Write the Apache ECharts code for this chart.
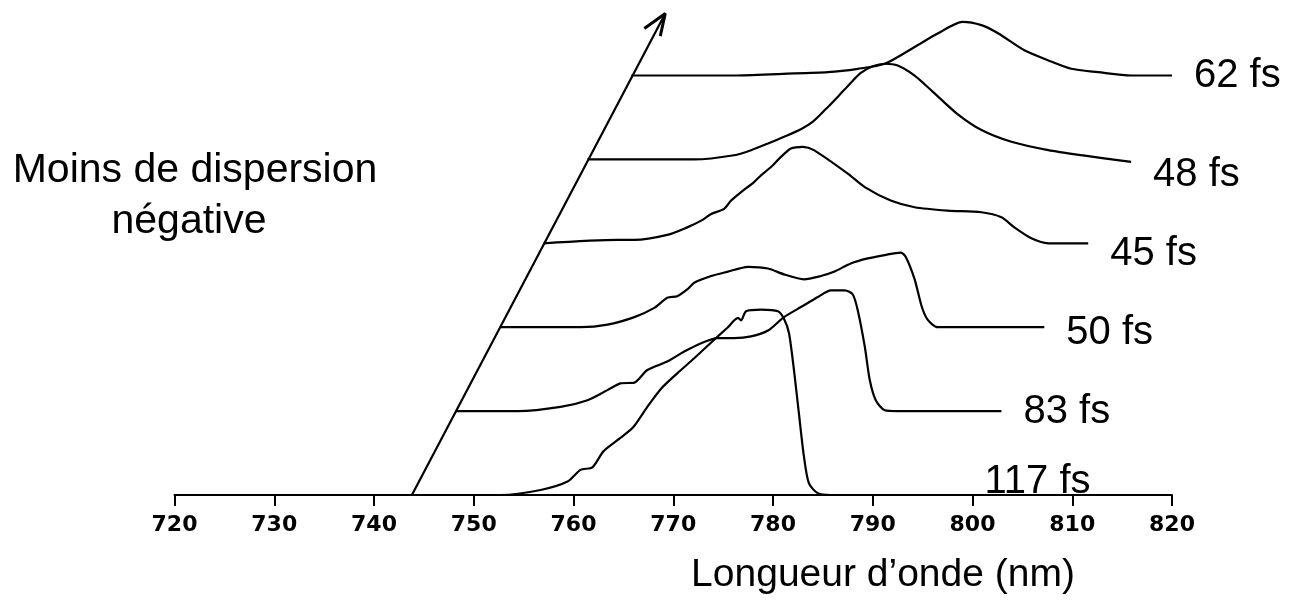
<!DOCTYPE html>
<html>
<head>
<meta charset="utf-8">
<script src="https://cdn.jsdelivr.net/npm/echarts@6/dist/echarts.min.js"></script>
<style>
html,body{margin:0;padding:0;background:#fff;}
#chart{width:1291px;height:605px;}
</style>
</head>
<body>
<div id="chart"></div>
<script>
// ---- data ----
const xTicks = [720, 730, 740, 750, 760, 770, 780, 790, 800, 810, 820];
const seriesNames = ['117 fs', '83 fs', '50 fs', '45 fs', '48 fs', '62 fs'];
const offsets = [0, 1, 2, 3, 4, 5]; // waterfall baseline of each spectrum

const w117 = [743.8, 752.7, 756.7, 759.4, 760.7, 761.9, 763.0, 764.7, 766.0, 767.4, 768.8, 770.4, 772.1, 774.1, 775.4, 776.5, 776.8, 777.3, 778.8, 780.5, 781.1, 781.6, 782.1, 782.6, 783.1, 783.6, 784.5, 785.8, 799.0];
const i117 = [0, 0, 0.06, 0.16, 0.30, 0.33, 0.52, 0.68, 0.81, 1.05, 1.27, 1.45, 1.63, 1.85, 1.99, 2.11, 2.08, 2.19, 2.21, 2.19, 2.10, 1.93, 1.49, 0.97, 0.46, 0.14, 0.02, 0, 0];

const w83 = [748.2, 754.4, 758.7, 761.4, 763.4, 764.7, 766.1, 767.4, 769.4, 771.1, 772.8, 774.4, 776.1, 777.8, 779.5, 781.1, 782.8, 784.5, 785.8, 787.2, 788.0, 788.5, 789.2, 789.7, 790.3, 791.2, 792.5, 802.9];
const i83 = [0, 0, 0.05, 0.13, 0.25, 0.33, 0.34, 0.49, 0.59, 0.71, 0.81, 0.87, 0.87, 0.89, 0.96, 1.12, 1.24, 1.36, 1.44, 1.44, 1.39, 1.20, 0.77, 0.37, 0.13, 0.01, 0, 0];

const w50 = [752.7, 760.7, 763.4, 766.1, 768.1, 769.4, 770.4, 771.4, 772.1, 773.8, 775.4, 777.5, 779.5, 781.1, 783.1, 784.8, 786.1, 787.8, 789.5, 791.2, 792.8, 793.3, 794.2, 794.9, 795.5, 796.5, 807.2];
const i50 = [0, 0, 0.03, 0.12, 0.23, 0.35, 0.37, 0.45, 0.53, 0.61, 0.66, 0.72, 0.70, 0.63, 0.57, 0.61, 0.66, 0.76, 0.82, 0.86, 0.89, 0.84, 0.57, 0.25, 0.09, 0, 0];

const w45 = [757.0, 764.4, 766.1, 769.4, 771.4, 772.8, 773.8, 775.1, 775.8, 776.8, 778.1, 778.8, 779.8, 780.8, 781.8, 783.0, 784.1, 787.5, 789.2, 791.8, 794.2, 797.5, 800.9, 802.9, 804.2, 805.9, 807.6, 811.6];
const i45 = [0, 0.04, 0.04, 0.10, 0.19, 0.27, 0.35, 0.41, 0.51, 0.61, 0.73, 0.81, 0.91, 1.03, 1.13, 1.15, 1.11, 0.83, 0.67, 0.51, 0.43, 0.39, 0.37, 0.31, 0.19, 0.06, 0, 0];

const w48 = [761.4, 772.1, 776.1, 777.8, 779.5, 781.1, 782.8, 784.0, 785.3, 786.6, 787.7, 788.8, 790.0, 791.2, 792.5, 794.2, 795.9, 798.5, 800.9, 803.9, 807.6, 810.9, 815.9];
const i48 = [0, 0, 0.05, 0.11, 0.19, 0.27, 0.36, 0.45, 0.60, 0.76, 0.90, 1.03, 1.11, 1.14, 1.12, 1.00, 0.82, 0.54, 0.35, 0.21, 0.11, 0.05, -0.03];

const w62 = [765.8, 776.1, 781.0, 785.5, 788.5, 791.2, 794.2, 796.5, 799.0, 800.9, 802.6, 805.2, 807.6, 809.9, 812.6, 815.9, 820.0];
const i62 = [0, 0, 0.02, 0.04, 0.08, 0.14, 0.34, 0.50, 0.64, 0.60, 0.50, 0.30, 0.18, 0.08, 0.04, 0, 0];

// arrow ("Moins de dispersion négative") in data units
const arrowShaftX = [743.8, 769.2];
const arrowShaftY = [0, 5.74];
const arrowHeadX = [767.1, 769.2, 768.7];
const arrowHeadY = [5.56, 5.74, 5.47];

const labelDy = [-13, 1, 6, 11, 13, 0];

// ---- chart ----
const wl = [w117, w83, w50, w45, w48, w62];
const it = [i117, i83, i50, i45, i48, i62];
const zip = (xs, ys, off) => xs.map((x, k) => [x, ys[k] + (off || 0)]);

const chart = echarts.init(document.getElementById('chart'), null, {renderer: 'canvas'});

const lineSeries = seriesNames.map((name, s) => ({
  name: name,
  type: 'line',
  data: zip(wl[s], it[s], offsets[s]),
  showSymbol: false,
  symbol: 'none',
  smooth: 0.25,
  clip: false,
  lineStyle: {color: '#000', width: 2.2},
  endLabel: {
    show: true,
    formatter: name,
    distance: 22,
    offset: [0, labelDy[s]],
    color: '#000',
    fontFamily: 'Liberation Sans',
    fontSize: 40
  },
  z: 3
}));

lineSeries.push({
  type: 'line',
  data: zip(arrowShaftX, arrowShaftY),
  symbol: 'none',
  clip: false,
  lineStyle: {color: '#000', width: 2.2},
  z: 4
});
lineSeries.push({
  type: 'line',
  data: zip(arrowHeadX, arrowHeadY),
  symbol: 'none',
  clip: false,
  lineStyle: {color: '#000', width: 3},
  z: 4
});

chart.setOption({
  animation: false,
  backgroundColor: '#fff',
  grid: {left: 174.5, right: 119, top: 0, bottom: 110, containLabel: false},
  xAxis: {
    type: 'value',
    min: xTicks[0],
    max: xTicks[xTicks.length - 1],
    interval: 10,
    axisLine: {show: true, lineStyle: {color: '#000', width: 2}},
    axisTick: {show: true, length: 11, lineStyle: {color: '#000', width: 2}},
    axisLabel: {
      margin: 19,
      color: '#000',
      fontFamily: 'DejaVu Sans',
      fontWeight: 'bold',
      fontSize: 22,
      formatter: v => String(v)
    },
    splitLine: {show: false}
  },
  yAxis: {
    type: 'value',
    min: 0,
    max: 5.9,
    show: false,
    splitLine: {show: false}
  },
  graphic: [
    {type: 'text', x: 195, y: 171, style: {text: 'Moins de dispersion', fill: '#000', font: '41px "Liberation Sans"', textAlign: 'center', textVerticalAlign: 'middle'}},
    {type: 'text', x: 189, y: 222, style: {text: 'négative', fill: '#000', font: '41px "Liberation Sans"', textAlign: 'center', textVerticalAlign: 'middle'}},
    {type: 'text', x: 883, y: 575, style: {text: 'Longueur d\u2019onde (nm)', fill: '#000', font: '39px "Liberation Sans"', textAlign: 'center', textVerticalAlign: 'middle'}}
  ],
  series: lineSeries
});
</script>
</body>
</html>
